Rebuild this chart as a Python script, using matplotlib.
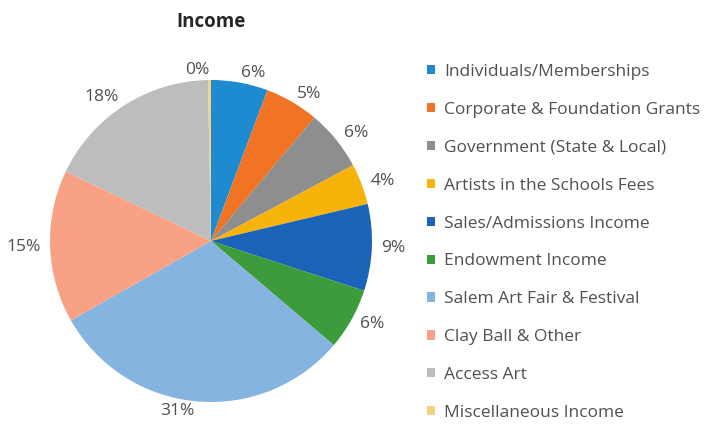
import matplotlib
matplotlib.use("Agg")
import matplotlib.pyplot as plt

plt.rcParams['font.family'] = ['Open Sans', 'DejaVu Sans']

# data (share of income, percent)
categories = [
    "Individuals/Memberships",
    "Corporate & Foundation Grants",
    "Government (State & Local)",
    "Artists in the Schools Fees",
    "Sales/Admissions Income",
    "Endowment Income",
    "Salem Art Fair & Festival",
    "Clay Ball & Other",
    "Access Art",
    "Miscellaneous Income",
]
shares = [5.7, 5.4, 6.1, 4.1, 8.7, 6.2, 30.6, 15.3, 17.6, 0.3]
colors = ["#1E8BD0", "#F07424", "#8E8E8E", "#F6B30A", "#1B63B8",
          "#3C9C3C", "#86B4E0", "#F9A184", "#BDBDBD", "#F5D080"]

W, H = 712, 428
fig = plt.figure(figsize=(W / 100, H / 100), dpi=100)

cx, cy, r = 211, 241, 161
ax = fig.add_axes([(cx - r) / W, (H - cy - r) / H, 2 * r / W, 2 * r / H])

pct_labels = ["%.0f%%" % v for v in shares]
wedges, texts = ax.pie(shares, colors=colors, labels=pct_labels,
                       startangle=90, counterclock=False,
                       labeldistance=1.06, radius=1,
                       textprops=dict(fontsize=12.5, color="#505050"))
ax.set_xlim(-1, 1)
ax.set_ylim(-1, 1)
ax.set_aspect("equal")

fig.text(cx / W, 1 - 22 / H, "Income", ha="center", va="center",
         fontsize=13.5, fontweight="bold", color="#262626")

fig.legend(wedges, categories, loc="upper left",
           bbox_to_anchor=(427 / W, 1 - 64 / H), frameon=False,
           fontsize=12.5, labelcolor="#505050",
           handlelength=0.45, handleheight=0.45, handletextpad=0.55,
           labelspacing=1.26, borderpad=0, borderaxespad=0)

fig.savefig("out.png", dpi=100)
